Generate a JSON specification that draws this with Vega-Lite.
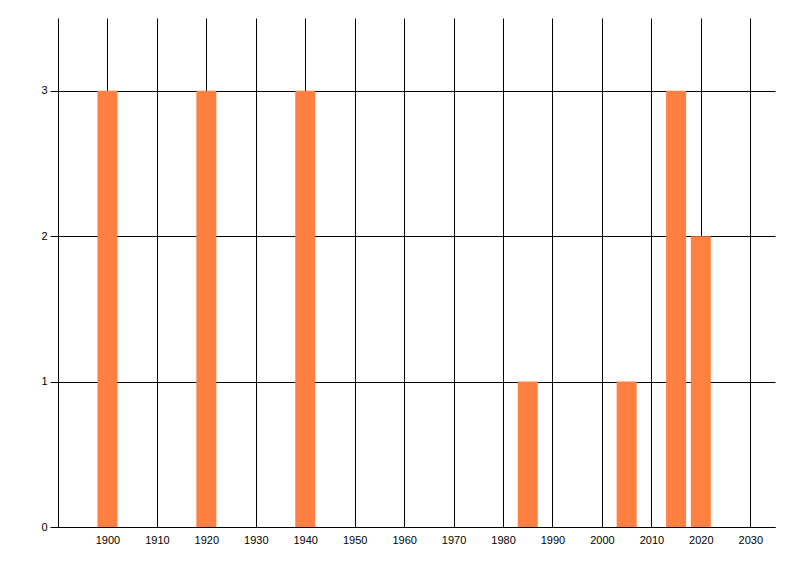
{
  "$schema": "https://vega.github.io/schema/vega-lite/v6.json",
  "width": 717,
  "height": 509,
  "autosize": {"type": "none"},
  "padding": {"left": 58, "top": 18, "right": 25, "bottom": 49},
  "background": "white",
  "config": {
    "view": {"stroke": null},
    "axis": {
      "labelFont": "Liberation Sans",
      "labelFontSize": 11,
      "labelColor": "#000000",
      "gridColor": "#000000",
      "gridOpacity": 1,
      "gridWidth": 1,
      "domainColor": "#000000",
      "domainWidth": 1,
      "tickColor": "#000000",
      "title": null
    }
  },
  "data": {
    "values": [
      {"year": 1900, "count": 3},
      {"year": 1920, "count": 3},
      {"year": 1940, "count": 3},
      {"year": 1985, "count": 1},
      {"year": 2005, "count": 1},
      {"year": 2015, "count": 3},
      {"year": 2020, "count": 2}
    ]
  },
  "mark": {"type": "bar", "size": 20, "color": "#FF8040"},
  "encoding": {
    "x": {
      "field": "year",
      "type": "quantitative",
      "scale": {"domain": [1890, 2035], "nice": false, "zero": false, "padding": 0},
      "axis": {
        "values": [1900, 1910, 1920, 1930, 1940, 1950, 1960, 1970, 1980, 1990, 2000, 2010, 2020, 2030],
        "format": "d",
        "ticks": false,
        "labelPadding": 7,
        "grid": true,
        "labelFlush": false
      }
    },
    "y": {
      "field": "count",
      "type": "quantitative",
      "scale": {"domain": [0, 3.5], "nice": false, "padding": 0},
      "axis": {
        "values": [0, 1, 2, 3],
        "format": "d",
        "ticks": true,
        "tickSize": 8,
        "labelPadding": 3,
        "grid": true,
        "labelFlush": false
      }
    }
  }
}
